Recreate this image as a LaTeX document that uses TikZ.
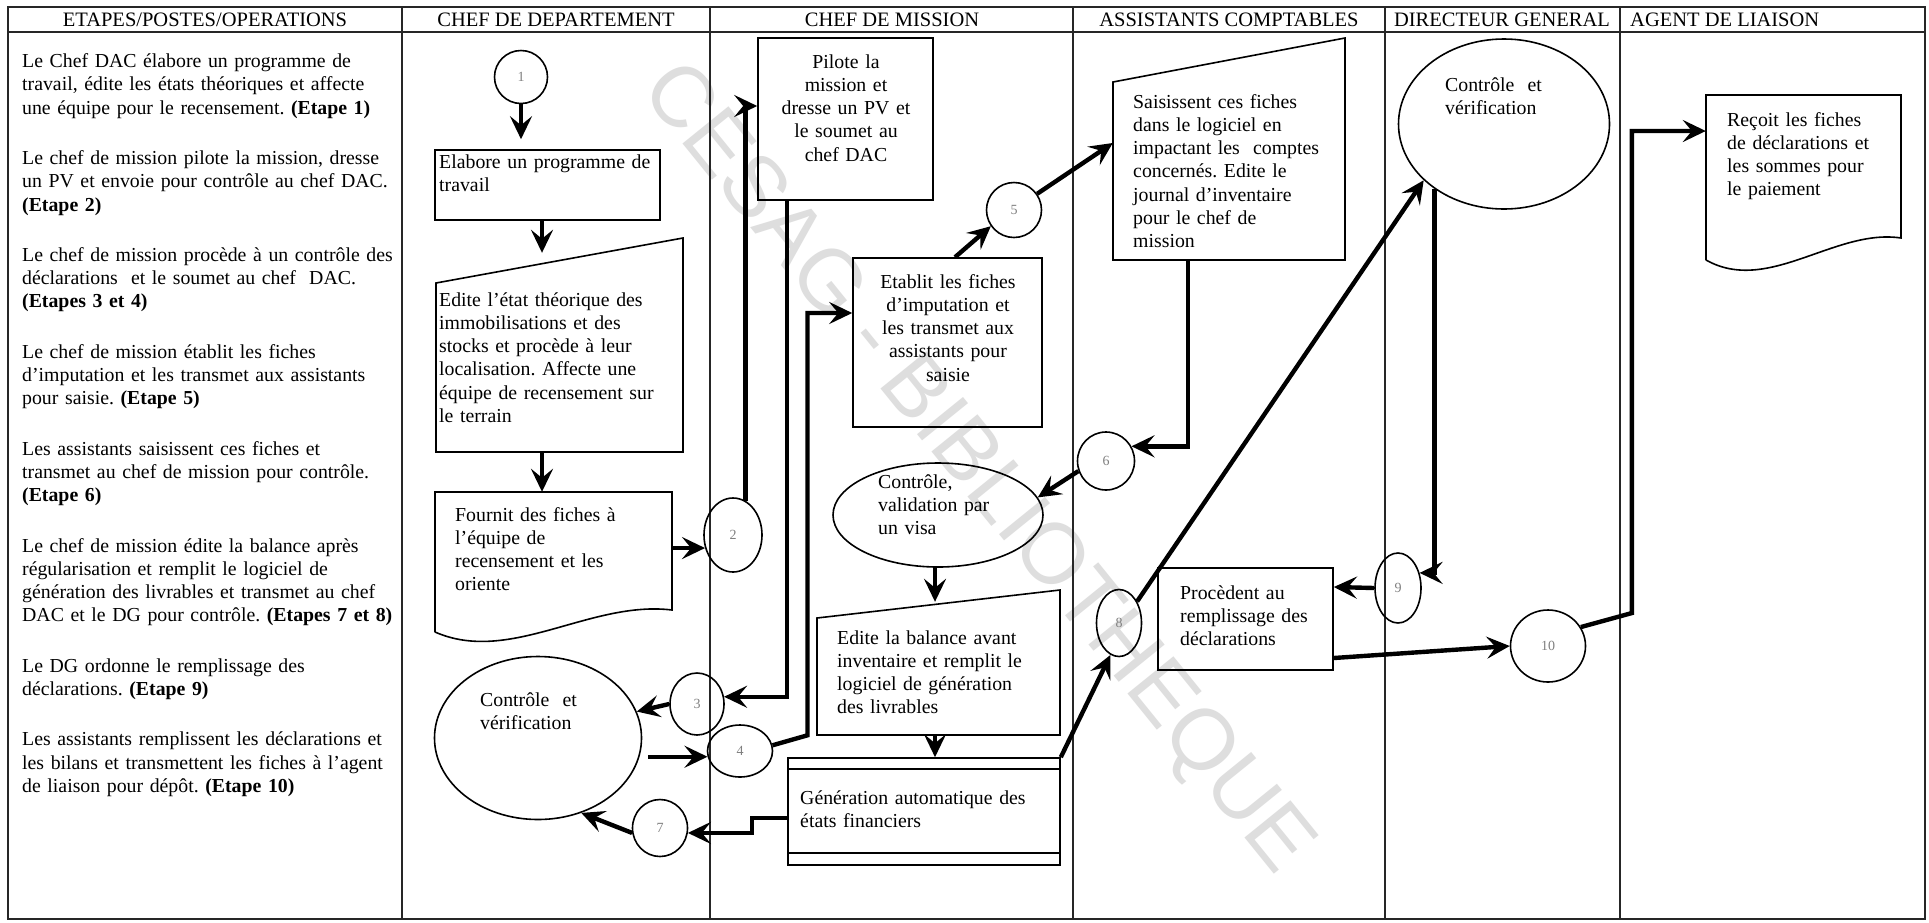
\documentclass[tikz,border=0pt]{standalone}
\usepackage{fontspec}
\setmainfont{Liberation Serif}
\newfontfamily\wmfont{Liberation Sans}
\usetikzlibrary{arrows.meta,shapes.geometric,calc}
\frenchspacing
\begin{document}
\begin{tikzpicture}[x=1pt,y=-1pt,
  grid/.style={line width=1.3pt, draw=black!85},
  shp/.style={draw, line width=1.6pt},
  box/.style={rectangle, draw, line width=1.6pt, inner sep=0pt},
  hid/.style={rectangle, draw=none, inner sep=0pt},
  num/.style={ellipse, draw, line width=1.6pt, inner sep=0pt, font=\fontsize{14}{16}\selectfont, text=black!50},
  txt/.style={inner sep=0pt, font=\fontsize{19.8}{23.3}\selectfont, align=left, anchor=base west},
  ctxt/.style={inner sep=0pt, font=\fontsize{19.8}{23.3}\selectfont, align=center, anchor=base},
  hdr/.style={font=\fontsize{20.5}{22}\selectfont, inner sep=0pt, anchor=base},
  lnk/.style={line width=4.4pt},
  arr/.style={line width=4.4pt, -{Stealth[length=23pt,width=22pt,inset=9pt]}},
]
\fill[white] (0,0) rectangle (1929,922);
\useasboundingbox (0,0) rectangle (1929,922);

% watermark
\node[rotate=-51, text=black!13, font=\wmfont\fontsize{86}{86}\selectfont, inner sep=0pt] (wm) at (975,470) {CESAG - BIBLIOTHEQUE};

% table
\draw[grid] (8,7) rectangle (1925,919);
\draw[grid] (8,32) -- (1925,32);
\foreach \x in {402,710,1073,1385,1620} \draw[grid] (\x,7) -- (\x,919);

\node[hdr] (h1) at (205,26.5) {ETAPES/POSTES/OPERATIONS};
\node[hdr] (h2) at (556,26.5) {CHEF DE DEPARTEMENT};
\node[hdr] (h3) at (892,26.5) {CHEF DE MISSION};
\node[hdr] (h4) at (1229,26.5) {ASSISTANTS COMPTABLES};
\node[hdr] (h5) at (1502,26.5) {DIRECTEUR GENERAL};
\node[hdr, anchor=base west] (h6) at (1630,26.5) {AGENT DE LIAISON};

% left column
\node[txt, text width=400pt] (etapes) at (22,67.5) {Le Chef DAC élabore un programme de\\
travail, édite les états théoriques et affecte\\
une équipe pour le recensement. \textbf{(Etape 1)}\\[27pt]
Le chef de mission pilote la mission, dresse\\
un PV et envoie pour contrôle au chef DAC.\\
\textbf{(Etape 2)}\\[27pt]
Le chef de mission procède à un contrôle des\\
déclarations\ \ et le soumet au chef\ \ DAC.\\
\textbf{(Etapes 3 et 4)}\\[27pt]
Le chef de mission établit les fiches\\
d’imputation et les transmet aux assistants\\
pour saisie. \textbf{(Etape 5)}\\[27pt]
Les assistants saisissent ces fiches et\\
transmet au chef de mission pour contrôle.\\
\textbf{(Etape 6)}\\[27pt]
Le chef de mission édite la balance après\\
régularisation et remplit le logiciel de\\
génération des livrables et transmet au chef\\
DAC et le DG pour contrôle. \textbf{(Etapes 7 et 8)}\\[27pt]
Le DG ordonne le remplissage des\\
déclarations. \textbf{(Etape 9)}\\[27pt]
Les assistants remplissent les déclarations et\\
les bilans et transmettent les fiches à l’agent\\
de liaison pour dépôt. \textbf{(Etape 10)}};

% ---- CHEF DE DEPARTEMENT
\node[num, minimum width=53pt, minimum height=53pt] (c1) at (521,77) {1};
\node[box, minimum width=225pt, minimum height=70pt] (elabore) at (547.5,185) {};
\node[txt, text width=220pt] (elaboreT) at (439,168) {Elabore un programme de\\ travail};

\node[hid, minimum width=247pt, minimum height=214pt] (editeEtat) at (559.5,345) {};
\draw[shp] (436,452) -- (436,283) -- (683,238) -- (683,452) -- cycle;
\node[txt, text width=240pt] (editeEtatT) at (439,306) {Edite l’état théorique des\\ immobilisations et des\\ stocks et procède à leur\\ localisation. Affecte une\\ équipe de recensement sur\\ le terrain};

\node[hid, minimum width=237pt, minimum height=140pt] (fournit) at (553.5,562) {};
\draw[shp] (435,632) -- (435,492) -- (672,492) -- (672,610) .. controls (590,600) and (510,665) .. (435,632);
\node[txt, text width=215pt] (fournitT) at (455,521) {Fournit des fiches à\\ l’équipe de\\ recensement et les\\ oriente};

\node[ellipse, draw, line width=1.6pt, minimum width=207pt, minimum height=163pt] (ctrlDep) at (538,738) {};
\node[txt, text width=160pt] (ctrlDepT) at (480,706) {Contrôle\ \ et\\ vérification};

% ---- CHEF DE MISSION
\node[box, minimum width=175pt, minimum height=162pt] (pilote) at (845.5,119) {};
\node[ctxt, text width=170pt] (piloteT) at (846,68) {Pilote la\\ mission et\\ dresse un PV et\\ le soumet au\\ chef DAC};

\node[box, minimum width=189pt, minimum height=169pt] (etablit) at (947.5,342.5) {};
\node[ctxt, text width=185pt] (etablitT) at (948,288) {Etablit les fiches\\ d’imputation et\\ les transmet aux\\ assistants pour\\ saisie};

\node[ellipse, draw, line width=1.6pt, minimum width=210pt, minimum height=104pt] (visa) at (938,515) {};
\node[txt, text width=150pt] (visaT) at (878,488) {Contrôle,\\ validation par\\ un visa};

\node[hid, minimum width=243pt, minimum height=145pt] (balance) at (938.5,662.5) {};
\draw[shp] (817,735) -- (817,618) -- (1060,590) -- (1060,735) -- cycle;
\node[txt, text width=230pt] (balanceT) at (837,644) {Edite la balance avant\\ inventaire et remplit le\\ logiciel de génération\\ des livrables};

\node[box, minimum width=272pt, minimum height=107pt] (gen) at (924,811.5) {};
\draw[shp] ([yshift=-12pt]gen.north west) -- ([yshift=-12pt]gen.north east);
\draw[shp] ([yshift=13pt]gen.south west) -- ([yshift=13pt]gen.south east);
\node[txt, text width=260pt] (genT) at (800,804) {Génération automatique des\\ états financiers};

\node[num, minimum width=58pt, minimum height=74pt] (c2) at (733,535) {2};
\node[num, minimum width=54pt, minimum height=62pt] (c3) at (697,704) {3};
\node[num, minimum width=65pt, minimum height=52pt] (c4) at (740,751) {4};
\node[num, minimum width=55pt, minimum height=55pt] (c5) at (1014,210) {5};
\node[num, minimum width=55pt, minimum height=57pt] (c7) at (660,828) {7};

% ---- ASSISTANTS COMPTABLES
\node[hid, minimum width=232pt, minimum height=222pt] (saisissent) at (1229,149) {};
\draw[shp] (1113,260) -- (1113,82) -- (1345,38) -- (1345,260) -- cycle;
\node[txt, text width=220pt] (saisissentT) at (1133,108) {Saisissent ces fiches\\ dans le logiciel en\\ impactant les\ \ comptes\\ concernés. Edite le\\ journal d’inventaire\\ pour le chef de\\ mission};

\node[num, minimum width=57pt, minimum height=58pt] (c6) at (1106,461) {6};
\node[num, minimum width=45pt, minimum height=67pt] (c8) at (1119,623) {8};

\node[box, minimum width=175pt, minimum height=102pt] (procedent) at (1245.5,619) {};
\node[txt, text width=170pt] (procedentT) at (1180,599) {Procèdent au\\ remplissage des\\ déclarations};

% ---- DIRECTEUR GENERAL
\node[ellipse, draw, line width=1.6pt, minimum width=211pt, minimum height=170pt] (ctrlDG) at (1504,124) {};
\node[txt, text width=160pt] (ctrlDGT) at (1445,91) {Contrôle\ \ et\\ vérification};
\node[num, minimum width=46pt, minimum height=70pt] (c9) at (1398,588) {9};
\node[num, minimum width=75pt, minimum height=72pt] (c10) at (1548,646) {10};

% ---- AGENT DE LIAISON
\node[hid, minimum width=195pt, minimum height=165pt] (recoit) at (1803.5,177.5) {};
\draw[shp] (1706,260) -- (1706,95) -- (1901,95) -- (1901,238) .. controls (1835,228) and (1768,295) .. (1706,260);
\node[txt, text width=180pt] (recoitT) at (1727,126) {Reçoit les fiches\\ de déclarations et\\ les sommes pour\\ le paiement};

% ---- connectors
\draw[arr] (c1.south) -- ([yshift=10pt]elabore.north -| c1.south);
\draw[arr] ([xshift=-5.5pt]elabore.south) -- ([xshift=-5.5pt,yshift=-15pt]elabore.south |- editeEtat.north);
\draw[arr] ([xshift=-17.5pt]editeEtat.south) -- ([xshift=-17.5pt]editeEtat.south |- fournit.north);
\draw[arr] (fournit.east |- c2.205) -- (c2.205);
\draw[arr] (c2.70) |- ([yshift=13pt]pilote.west);
\draw[arr] ([xshift=-58.5pt]pilote.south) |- (c3.15);
\draw[arr] (c3.west) -- (ctrlDep.15);
\draw[arr] ([xshift=6pt]ctrlDep.east |- c4.190) -- (c4.190);
\draw[arr] (c4.10) -- ++(35,-10) |- ([yshift=29.5pt]etablit.west);
\draw[arr] ([xshift=7.5pt]etablit.north) -- (c5.215);
\draw[arr] (c5.35) -- ([yshift=6pt]saisissent.west);
\draw[arr] ([xshift=-41pt]saisissent.south) |- (c6.30);
\draw[arr] (c6.200) -- (visa.10);
\draw[arr] ([xshift=-3pt]visa.south) -- ([xshift=-3.5pt,yshift=-12pt]balance.north);
\draw[arr] ([xshift=-3.5pt]balance.south) -- ([xshift=-3.5pt]balance.south |- gen.north);
\draw[arr] ([yshift=-6.5pt]gen.west) -- ++(-35,0) |- (c7.350);
\draw[arr] (c7.190) -- (ctrlDep.300);
\draw[arr] (gen.north east) -- (c8.255);
\draw[arr] (c8.50) -- (ctrlDG.215);
\draw[arr] (ctrlDG.223) |- (c9.35);
\draw[arr] (c9.west) -- ([yshift=32pt]procedent.east);
\draw[arr] ([yshift=-39pt]procedent.east) -- (c10.west);
\draw[arr] (c10.30) -- ++(51,-14) |- ([yshift=46.5pt]recoit.west);
\end{tikzpicture}
\end{document}
